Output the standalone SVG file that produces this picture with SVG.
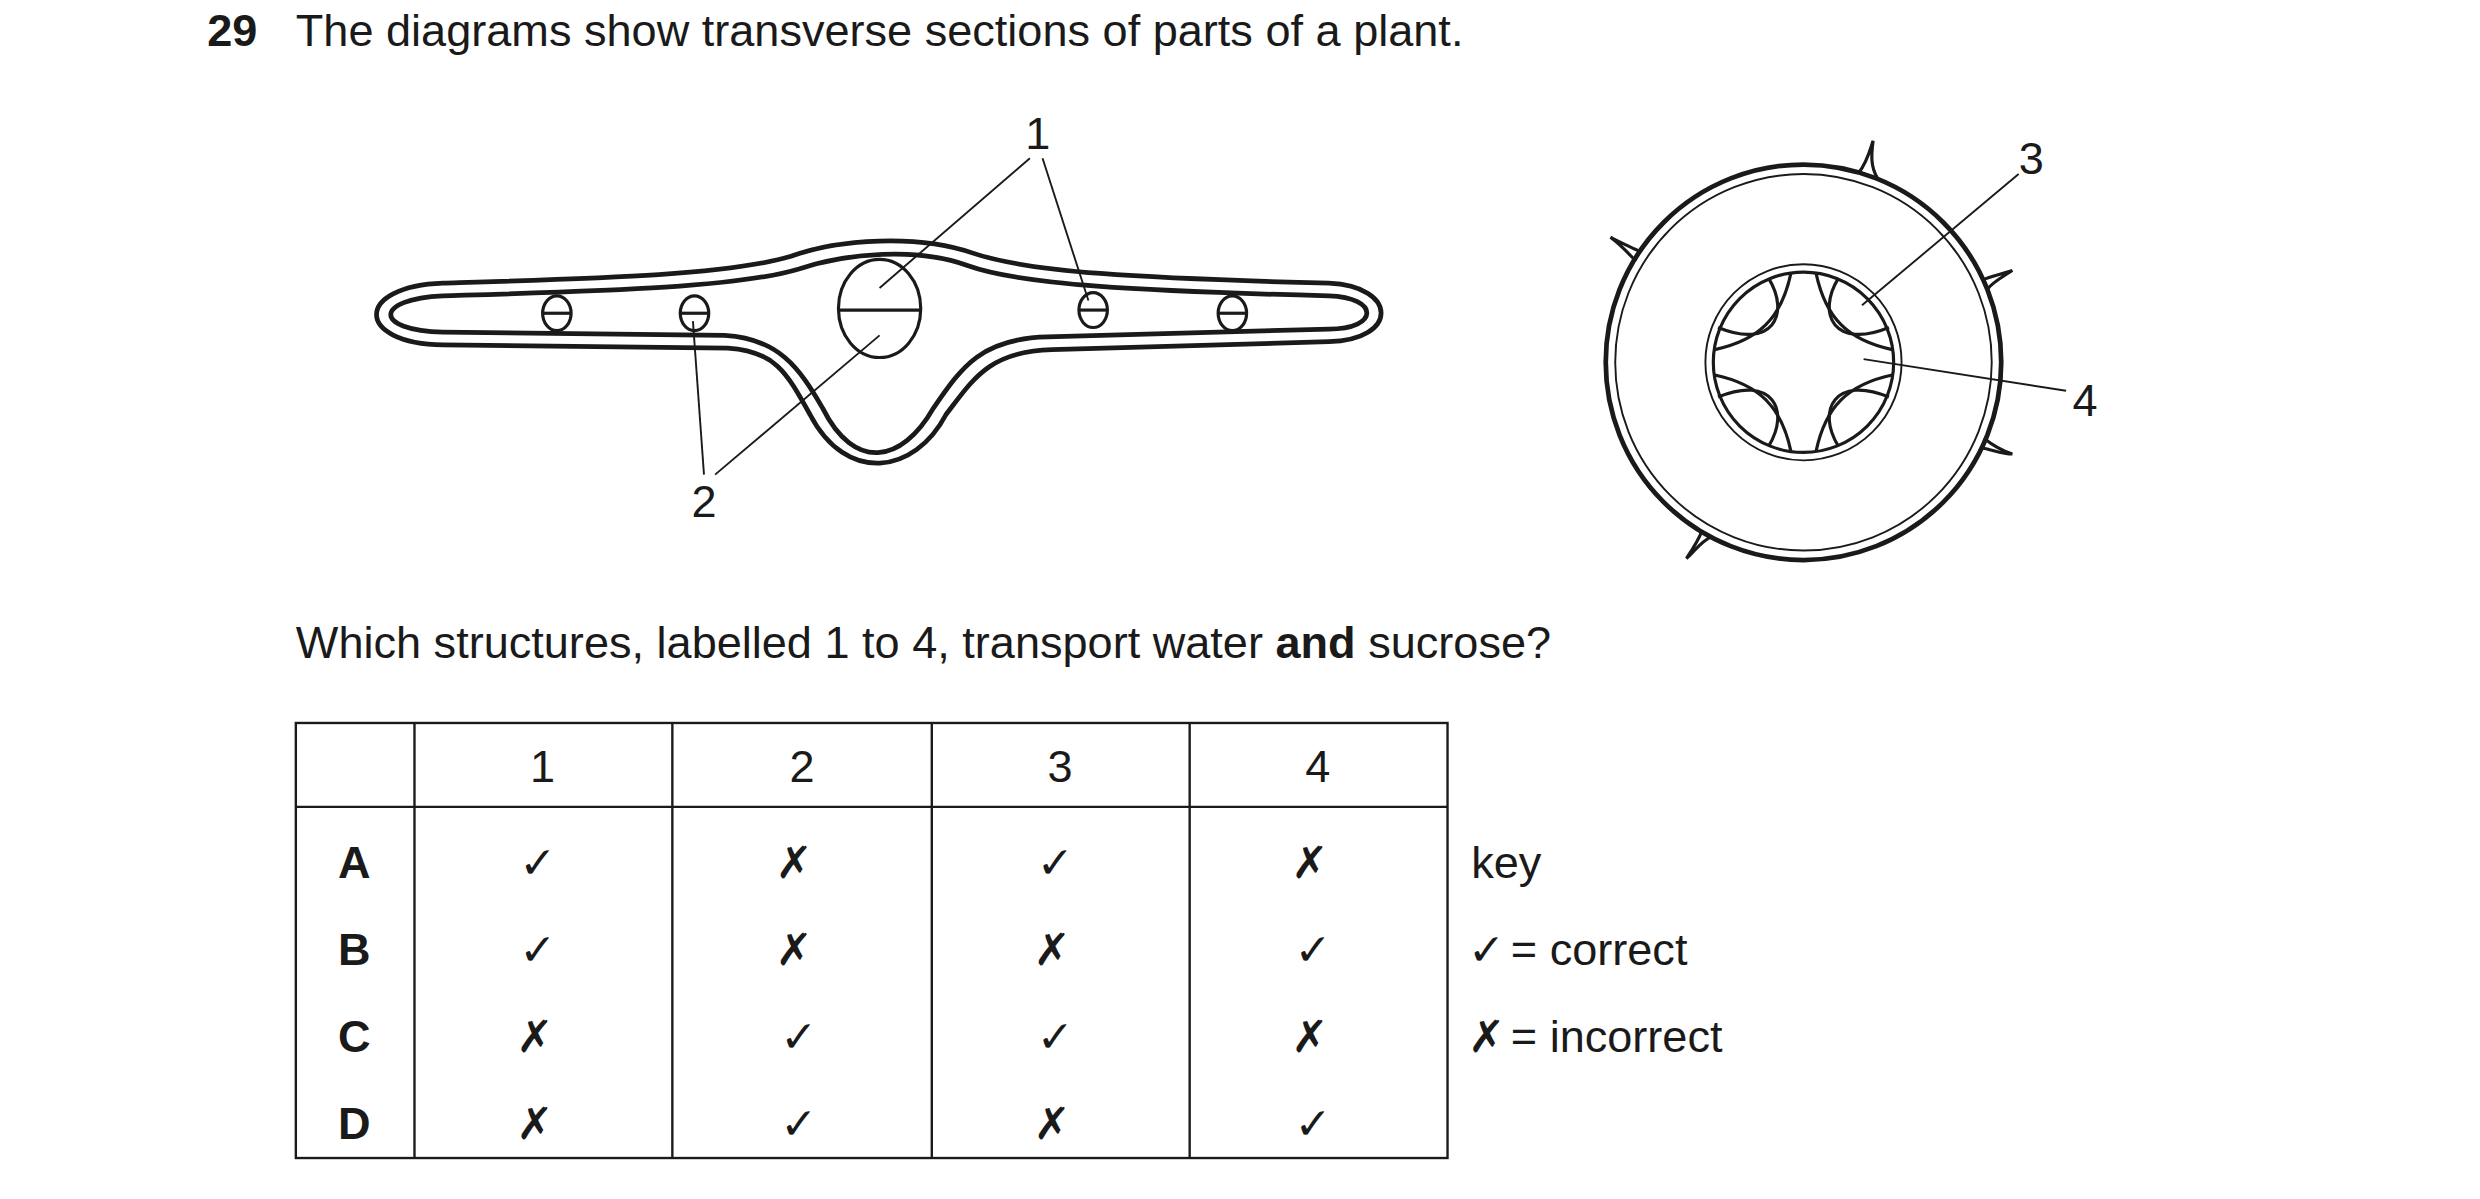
<svg xmlns="http://www.w3.org/2000/svg" xmlns:xlink="http://www.w3.org/1999/xlink" width="2480" height="1199" viewBox="0 0 2480 1199">
<style>
.t{font-family:"Liberation Sans",Arial,sans-serif;font-size:28.5px;fill:#1a1a1a}
.b{font-weight:bold}
.m{font-family:"DejaVu Sans",sans-serif;font-size:28px;font-weight:bold;fill:#1a1a1a}
.thick{fill:none;stroke:#1a1a1a;stroke-width:3}
.med{fill:none;stroke:#1a1a1a;stroke-width:2}
.thin{fill:none;stroke:#1a1a1a;stroke-width:1.2}
.grid{fill:none;stroke:#1a1a1a;stroke-width:1.5}
</style>
<defs>
<g id="vb"><ellipse cx="0" cy="0" rx="9" ry="11" class="med"/><line x1="-9" y1="0" x2="9" y2="0" class="med"/></g>
<path id="ph" d="M -22,-53 C -8,-30 -20,-8 -54,-22" class="med"/>
</defs>
<rect width="2480" height="1199" fill="#fff"/>
<g transform="scale(1.582)">
<g id="title">
<text class="t b" x="131" y="29">29</text>
<text class="t" x="187" y="29">The diagrams show transverse sections of parts of a plant.</text>
</g>
<g id="leaf">
<path class="thick" d="M 280,179 C 380,176 460,174 500,162 C 530,151 580,148 615,160 C 650,172 720,176 840,179 C 884,181 884,215 840,216 L 665,221 C 625,222 615,240 598,262 C 578,300 535,306 512,262 C 497,235 490,222 460,220 L 280,218 C 224,217 224,181 280,179 Z"/>
<path class="thick" d="M 280,187 C 380,184 465,182 505,170 C 535,160 580,156 612,168 C 645,180 720,184 840,187 C 872,188 872,208 840,208 L 662,213 C 620,214 608,232 590,258 C 570,293 540,298 520,258 C 505,232 492,214 458,212 L 280,210 C 236,209 236,189 280,187 Z"/>
<use xlink:href="#vb" x="352" y="198"/>
<use xlink:href="#vb" x="439" y="198"/>
<use xlink:href="#vb" x="691" y="196"/>
<use xlink:href="#vb" x="779" y="198"/>
<ellipse cx="556" cy="195" rx="26" ry="31" class="med"/>
<line x1="530" y1="196" x2="582" y2="196" class="med"/>
</g>
<g id="root" transform="translate(1140,229)">
<circle r="125" class="thick"/>
<circle r="119" class="thin"/>
<circle r="62" class="thin"/>
<circle r="57" class="med"/>
<path class="med" d="M -8,-56 C -14,-28 -28,-14 -56,-8 M -56,8 C -28,14 -14,28 -8,56 M 8,56 C 14,28 28,14 56,8 M 56,-8 C 28,-14 14,-28 8,-56"/>
<use xlink:href="#ph"/>
<use xlink:href="#ph" transform="scale(-1,1)"/>
<use xlink:href="#ph" transform="scale(1,-1)"/>
<use xlink:href="#ph" transform="scale(-1,-1)"/>
<path class="med" d="M 35,-120 C 40,-126 42,-134 44,-140 C 43,-132 42,-124 47,-116"/>
<path class="med" d="M -103,-70 C -108,-72 -116,-76 -122,-79 C -114,-73 -110,-68 -106,-64"/>
<path class="med" d="M 113,-52 C 118,-54 126,-56 132,-58 C 126,-54 120,-51 116,-46"/>
<path class="med" d="M 114,48 C 119,52 126,56 132,58 C 125,58 119,55 112,54"/>
<path class="med" d="M -64,106 C -66,112 -70,118 -74,124 C -69,120 -66,114 -58,110"/>
</g>
<g id="connectors">
<line x1="651" y1="100" x2="556" y2="182" class="thin"/>
<line x1="659" y1="100" x2="688" y2="190" class="thin"/>
<line x1="445" y1="300" x2="438" y2="203" class="thin"/>
<line x1="452" y1="300" x2="556" y2="212" class="thin"/>
<line x1="1276" y1="110" x2="1177" y2="193" class="thin"/>
<line x1="1306" y1="247" x2="1178" y2="227" class="thin"/>
</g>
<g id="labels">
<text class="t" x="656" y="94" text-anchor="middle">1</text>
<text class="t" x="445" y="327" text-anchor="middle">2</text>
<text class="t" x="1284" y="110" text-anchor="middle">3</text>
<text class="t" x="1318" y="263" text-anchor="middle">4</text>
</g>
<g id="question">
<text class="t" x="187" y="416">Which structures, labelled 1 to 4, transport water <tspan class="b">and</tspan> sucrose?</text>
</g>
<g id="table">
<rect x="187" y="457" width="728" height="275" class="grid"/>
<line x1="187" y1="510" x2="915" y2="510" class="grid"/>
<line x1="262" y1="457" x2="262" y2="732" class="grid"/>
<line x1="425" y1="457" x2="425" y2="732" class="grid"/>
<line x1="589" y1="457" x2="589" y2="732" class="grid"/>
<line x1="752" y1="457" x2="752" y2="732" class="grid"/>
<g class="t" text-anchor="middle">
<text x="343" y="494">1</text><text x="507" y="494">2</text><text x="670" y="494">3</text><text x="833" y="494">4</text>
<text class="b" x="224" y="555">A</text><text class="b" x="224" y="610">B</text><text class="b" x="224" y="665">C</text><text class="b" x="224" y="720">D</text>
</g>
<g class="m" text-anchor="middle">
<text x="340" y="555">✓</text><text x="502" y="555">✗</text><text x="667" y="555">✓</text><text x="828" y="555">✗</text>
<text x="340" y="610">✓</text><text x="502" y="610">✗</text><text x="665" y="610">✗</text><text x="830" y="610">✓</text>
<text x="338" y="665">✗</text><text x="505" y="665">✓</text><text x="667" y="665">✓</text><text x="828" y="665">✗</text>
<text x="338" y="720">✗</text><text x="505" y="720">✓</text><text x="665" y="720">✗</text><text x="830" y="720">✓</text>
</g>
</g>
<g id="key">
<text class="t" x="930" y="555">key</text>
<text class="m" x="928" y="610">✓</text><text class="t" x="955" y="610">= correct</text>
<text class="m" x="928" y="665">✗</text><text class="t" x="955" y="665">= incorrect</text>
</g>
</g>
</svg>
